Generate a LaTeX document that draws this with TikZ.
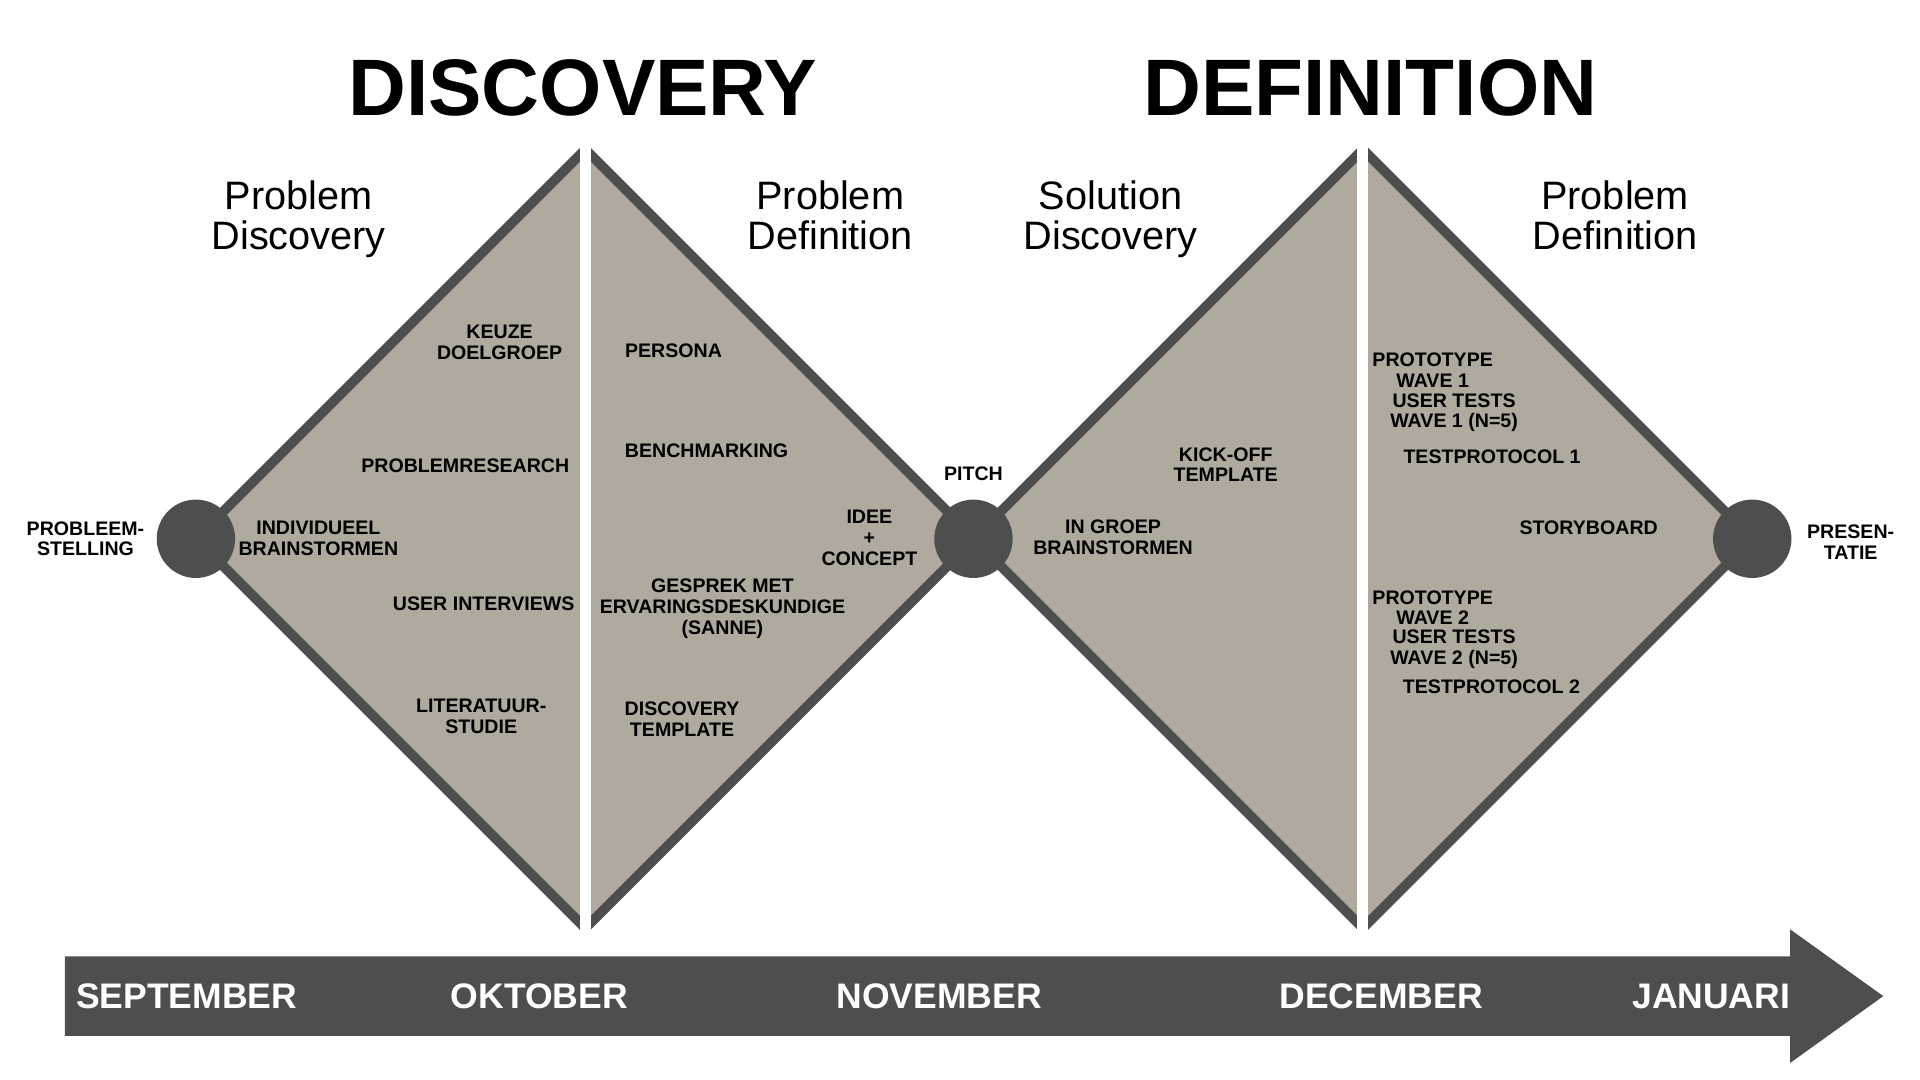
\documentclass[tikz,border=0pt]{standalone}
\usepackage{fontspec}
\setmainfont{Liberation Sans}
\usetikzlibrary{positioning}
\usepackage{xcolor}
\definecolor{slate}{RGB}{78,78,78}
\definecolor{taupe}{RGB}{175,169,158}

\begin{document}
\begin{tikzpicture}[
                x=0.5pt, y=-0.5pt,
                node distance=6pt,
                align=center,
                headline/.style={font=\fontsize{32.7}{36}\selectfont\bfseries},
                phase/.style={font=\fontsize{16.2}{16.3}\selectfont},
                item/.style={inner sep=0pt, font=\fontsize{8}{8.5}\selectfont\bfseries},
                month/.style={inner sep=0pt, text=white, font=\fontsize{14.5}{15}\selectfont\bfseries},
                milestone/.style={circle, fill=slate, minimum size=32pt, inner sep=0pt},
                diamondhalf/.style={fill=taupe, draw=slate, line width=4pt, miter limit=10},
                gap/.style={fill=white},
                ]
                \useasboundingbox (0,0) rectangle (1568,882);

                % Draw the two diamonds and split each one in two halves
                \filldraw[diamondhalf] (160,440) -- (478,122) -- (796,440) -- (478,758) -- cycle;
                \filldraw[diamondhalf] (795,440) -- (1113,122) -- (1431,440) -- (1113,758) -- cycle;
                \fill[gap] (474,100) rectangle (483,775);
                \fill[gap] (1108.5,100) rectangle (1117.5,775);

                % Timeline arrow
                \fill[slate] (53,781) -- (1462,781) -- (1462,759) -- (1538,813.5)
                        -- (1462,868) -- (1462,846) -- (53,846) -- cycle;

                % Place the milestones and their labels
                \node [milestone] (start) at (160,440) {};
                \node [milestone] (pitch) at (795,440) {};
                \node [milestone] (end) at (1431,440) {};
                \node [item, left=4.7pt of start] (probleemstelling) {PROBLEEM-\\STELLING};
                \node [item, above=7.5pt of pitch] (pitchLabel) {PITCH};
                \node [item, right=6pt of end, yshift=-1.5pt] (presentatie) {PRESEN-\\TATIE};

                % Headlines and phases
                \node [headline] (discovery) at (476,72) {DISCOVERY};
                \node [headline] (definition) at (1119,72) {DEFINITION};
                \node [phase] (problemDiscovery) at (244,179) {Problem\\Discovery};
                \node [phase] (problemDefinition) at (678,176) {Problem\\Definition};
                \node [phase] (solutionDiscovery) at (907,179) {Solution\\Discovery};
                \node [phase] (solutionDefinition) at (1319,176) {Problem\\Definition};

                % Activities in problem discovery
                \node [item] (doelgroep) at (408,279.5) {KEUZE\\DOELGROEP};
                \node [item] (research) at (380,380.5) {PROBLEMRESEARCH};
                \node [item] (individueel) at (260,439.5) {INDIVIDUEEL\\BRAINSTORMEN};
                \node [item] (interviews) at (395,493) {USER INTERVIEWS};
                \node [item] (literatuur) at (393,585) {LITERATUUR-\\STUDIE};

                % Activities in problem definition
                \node [item] (persona) at (550,286.5) {PERSONA};
                \node [item] (benchmarking) at (577,368.5) {BENCHMARKING};
                \node [item] (concept) at (710,439) {IDEE\\+\\CONCEPT};
                \node [item] (gesprek) at (590,497) {GESPREK MET\\ERVARINGSDESKUNDIGE\\(SANNE)};
                \node [item] (discoveryTemplate) at (557,587) {DISCOVERY\\TEMPLATE};

                % Activities in solution discovery
                \node [item] (kickoff) at (1001,379.5) {KICK-OFF\\TEMPLATE};
                \node [item] (groep) at (909,439) {IN GROEP\\BRAINSTORMEN};

                % Activities in solution definition
                \node [item] (prototypeOne) at (1170,302.3) {PROTOTYPE\\WAVE 1};
                \node [item] (testsOne) at (1187.5,337) {USER TESTS\\WAVE 1 (N=5)};
                \node [item] (protocolOne) at (1218.5,373.4) {TESTPROTOCOL 1};
                \node [item] (storyboard) at (1297.4,431) {STORYBOARD};
                \node [item] (prototypeTwo) at (1170,496.2) {PROTOTYPE\\WAVE 2};
                \node [item] (testsTwo) at (1187.5,530) {USER TESTS\\WAVE 2 (N=5)};
                \node [item] (protocolTwo) at (1218,560.5) {TESTPROTOCOL 2};

                % Months on the timeline
                \node [month] (september) at (152.5,813.5) {SEPTEMBER};
                \node [month] (oktober) at (440.5,813.5) {OKTOBER};
                \node [month] (november) at (767,813.5) {NOVEMBER};
                \node [month] (december) at (1128,813.5) {DECEMBER};
                \node [month] (januari) at (1397.5,813.5) {JANUARI};

            \end{tikzpicture}
\end{document}
